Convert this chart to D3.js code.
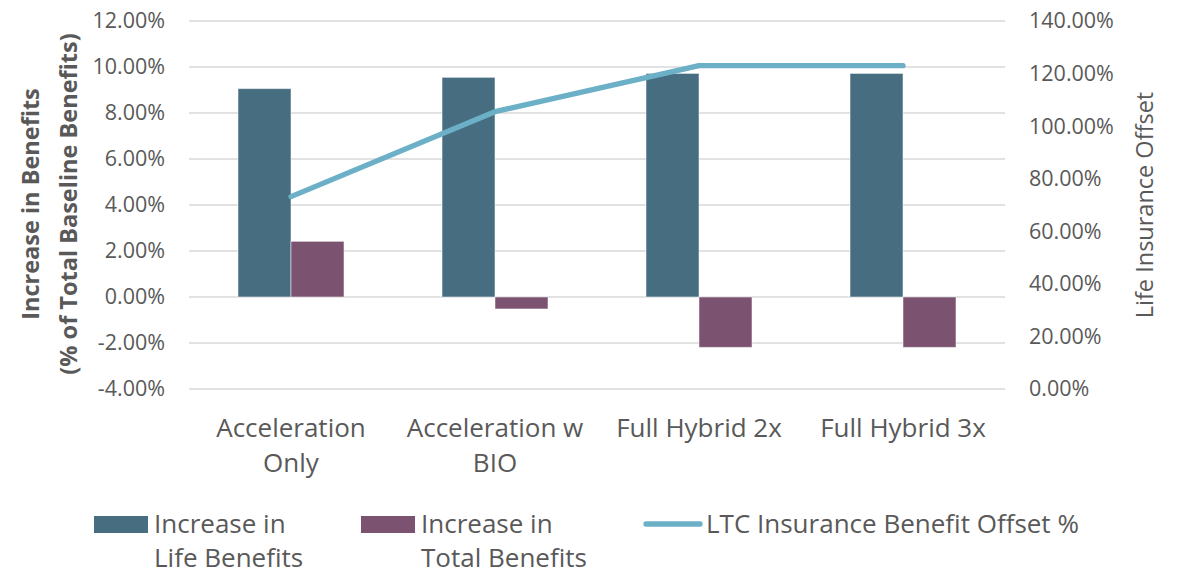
<!DOCTYPE html>
<html>
<head>
<meta charset="utf-8">
<script src="https://cdn.jsdelivr.net/npm/d3@7"></script>
<style>
  body { margin: 0; background: #fff; }
  svg { display: block; font-family: "Open Sans", sans-serif; }
</style>
</head>
<body>
<div id="chart"></div>
<script>
const width = 1177;
const height = 575;
const plot = { left: 189, right: 1005, top: 21, bottom: 389 };
const textColor = "#595959";

// Data
const categories = ["Acceleration Only", "Acceleration w BIO", "Full Hybrid 2x", "Full Hybrid 3x"];
const seriesNames = ["Increase in Life Benefits", "Increase in Total Benefits"];
const lifeBenefits = [9.06, 9.55, 9.72, 9.72];
const totalBenefits = [2.42, -0.52, -2.19, -2.19];
const offsetPct = [73.2, 105.5, 123.0, 123.0];
const lineName = "LTC Insurance Benefit Offset %";
const leftTicks = [-4, -2, 0, 2, 4, 6, 8, 10, 12];
const rightTicks = [0, 20, 40, 60, 80, 100, 120, 140];

const barColors = ["#476e80", "#7b5371"];
const lineColor = "#6cb0c8";

const svg = d3
  .select("#chart")
  .append("svg")
  .attr("width", width)
  .attr("height", height);

// Scales
const x0 = d3.scaleBand().domain(categories).range([plot.left, plot.right]).padding(0);
const x1 = d3
  .scaleBand()
  .domain(seriesNames)
  .range([0, x0.bandwidth()])
  .paddingInner(0)
  .paddingOuter(0.925);
const yLeft = d3.scaleLinear().domain([-4, 12]).range([plot.bottom, plot.top]);
const yRight = d3.scaleLinear().domain([0, 140]).range([plot.bottom, plot.top]);

// plain hyphen for negatives, like the original
const fmt = (d) => d.toFixed(2) + "%";

// Gridlines
svg
  .append("g")
  .selectAll("line")
  .data(leftTicks)
  .join("line")
  .attr("x1", plot.left)
  .attr("x2", plot.right)
  .attr("y1", (d) => yLeft(d))
  .attr("y2", (d) => yLeft(d))
  .attr("stroke", "#d9d9d9")
  .attr("stroke-width", 1.5);

// Left axis labels
const leftAxis = d3.axisLeft(yLeft).tickValues(leftTicks).tickFormat(fmt).tickSize(0).tickPadding(24);
svg
  .append("g")
  .attr("transform", `translate(${plot.left},0)`)
  .call(leftAxis)
  .call((g) => g.select(".domain").remove())
  .selectAll("text")
  .attr("fill", textColor)
  .style("font-size", "21.5px")
  .style("font-family", "Open Sans");

// Right axis labels
const rightAxis = d3.axisRight(yRight).tickValues(rightTicks).tickFormat(fmt).tickSize(0).tickPadding(24);
svg
  .append("g")
  .attr("transform", `translate(${plot.right},0)`)
  .call(rightAxis)
  .call((g) => g.select(".domain").remove())
  .selectAll("text")
  .attr("fill", textColor)
  .style("font-size", "21.5px")
  .style("font-family", "Open Sans");

// Bars
const rows = categories.map((c, i) => ({
  category: c,
  values: [
    { name: seriesNames[0], value: lifeBenefits[i] },
    { name: seriesNames[1], value: totalBenefits[i] },
  ],
}));

svg
  .append("g")
  .selectAll("g")
  .data(rows)
  .join("g")
  .attr("transform", (d) => `translate(${x0(d.category)},0)`)
  .selectAll("rect")
  .data((d) => d.values)
  .join("rect")
  .attr("x", (d) => x1(d.name))
  .attr("width", x1.bandwidth())
  .attr("y", (d) => yLeft(Math.max(0, d.value)))
  .attr("height", (d) => Math.abs(yLeft(d.value) - yLeft(0)))
  .attr("fill", (d, i) => barColors[i])
  .attr("stroke", "#ffffff")
  .attr("stroke-opacity", 0.5)
  .attr("stroke-width", 1);

// Line
const line = d3
  .line()
  .x((d, i) => x0(categories[i]) + x0.bandwidth() / 2)
  .y((d) => yRight(d));

svg
  .append("path")
  .datum(offsetPct)
  .attr("d", line)
  .attr("fill", "none")
  .attr("stroke", lineColor)
  .attr("stroke-width", 5.3)
  .attr("stroke-linecap", "round")
  .attr("stroke-linejoin", "round");

// Wrap helper
function wrapText(textSel, maxWidth, lineHeight) {
  textSel.each(function () {
    const text = d3.select(this);
    const words = text.text().split(" ");
    const x = text.attr("x");
    text.text(null);
    let lineWords = [];
    let tspan = text.append("tspan").attr("x", x).attr("dy", 0);
    words.forEach((w) => {
      lineWords.push(w);
      tspan.text(lineWords.join(" "));
      if (tspan.node().getComputedTextLength() > maxWidth && lineWords.length > 1) {
        lineWords.pop();
        tspan.text(lineWords.join(" "));
        lineWords = [w];
        tspan = text.append("tspan").attr("x", x).attr("dy", lineHeight).text(w);
      }
    });
  });
}

// Category labels
svg
  .append("g")
  .selectAll("text")
  .data(categories)
  .join("text")
  .attr("x", (d) => x0(d) + x0.bandwidth() / 2)
  .attr("y", 437)
  .attr("text-anchor", "middle")
  .attr("fill", textColor)
  .style("font-size", "26px")
  .text((d) => d)
  .call(wrapText, 185, 35);

// Axis titles
svg
  .append("text")
  .attr("transform", "translate(39,204) rotate(-90)")
  .attr("text-anchor", "middle")
  .attr("fill", textColor)
  .style("font-size", "23.5px")
  .style("font-weight", "bold")
  .selectAll("tspan")
  .data(["Increase in Benefits", "(% of Total Baseline Benefits)"])
  .join("tspan")
  .attr("x", 0)
  .attr("y", (d, i) => i * 38)
  .text((d) => d);

svg
  .append("text")
  .attr("transform", "translate(1153,205) rotate(-90)")
  .attr("text-anchor", "middle")
  .attr("fill", textColor)
  .style("font-size", "23.5px")
  .text("Life Insurance Offset");

// Legend
const legendX = [94, 361];
const legend = svg.append("g");
seriesNames.forEach((name, i) => {
  legend
    .append("rect")
    .attr("x", legendX[i])
    .attr("y", 516)
    .attr("width", 54)
    .attr("height", 17)
    .attr("fill", barColors[i]);
  legend
    .append("text")
    .attr("x", legendX[i] + 60)
    .attr("y", 533)
    .attr("fill", textColor)
    .style("font-size", "26px")
    .text(name)
    .call(wrapText, 175, 34);
});
legend
  .append("line")
  .attr("x1", 646)
  .attr("x2", 700)
  .attr("y1", 524)
  .attr("y2", 524)
  .attr("stroke", lineColor)
  .attr("stroke-width", 5.3)
  .attr("stroke-linecap", "round");
legend
  .append("text")
  .attr("x", 706)
  .attr("y", 533)
  .attr("fill", textColor)
  .style("font-size", "26px")
  .text(lineName);
</script>
</body>
</html>
